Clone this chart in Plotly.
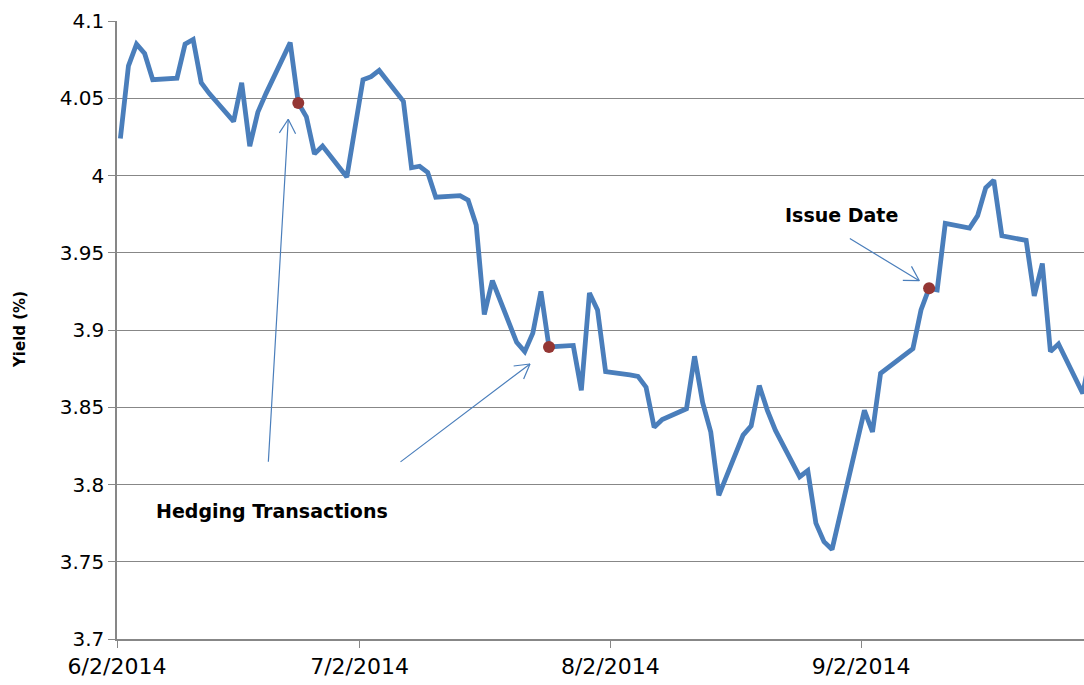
import math
import pandas as pd
import plotly.graph_objects as go

# ---- data ----
dates = [
    "2014-06-02", "2014-06-03", "2014-06-04", "2014-06-05", "2014-06-06",
    "2014-06-09", "2014-06-10", "2014-06-11", "2014-06-12", "2014-06-13",
    "2014-06-16", "2014-06-17", "2014-06-18", "2014-06-19", "2014-06-20",
    "2014-06-23", "2014-06-24", "2014-06-25", "2014-06-26", "2014-06-27",
    "2014-06-30", "2014-07-01", "2014-07-02", "2014-07-03", "2014-07-04",
    "2014-07-07", "2014-07-08", "2014-07-09", "2014-07-10", "2014-07-11",
    "2014-07-14", "2014-07-15", "2014-07-16", "2014-07-17", "2014-07-18",
    "2014-07-21", "2014-07-22", "2014-07-23", "2014-07-24", "2014-07-25",
    "2014-07-28", "2014-07-29", "2014-07-30", "2014-07-31", "2014-08-01",
    "2014-08-04", "2014-08-05", "2014-08-06", "2014-08-07", "2014-08-08",
    "2014-08-11", "2014-08-12", "2014-08-13", "2014-08-14", "2014-08-15",
    "2014-08-18", "2014-08-19", "2014-08-20", "2014-08-21", "2014-08-22",
    "2014-08-25", "2014-08-26", "2014-08-27", "2014-08-28", "2014-08-29",
    "2014-09-02", "2014-09-03", "2014-09-04", "2014-09-05",
    "2014-09-08", "2014-09-09", "2014-09-10", "2014-09-11", "2014-09-12",
    "2014-09-15", "2014-09-16", "2014-09-17", "2014-09-18", "2014-09-19",
    "2014-09-22", "2014-09-23", "2014-09-24", "2014-09-25", "2014-09-26",
    "2014-09-29", "2014-09-30",
]
yields = [
    4.024, 4.071, 4.085, 4.079, 4.062,
    4.063, 4.085, 4.088, 4.060, 4.053,
    4.035, 4.060, 4.019, 4.041, 4.053,
    4.086, 4.047, 4.038, 4.014, 4.019,
    3.999, 4.030, 4.062, 4.064, 4.068,
    4.048, 4.005, 4.006, 4.002, 3.986,
    3.987, 3.984, 3.968, 3.910, 3.932,
    3.892, 3.886, 3.898, 3.925, 3.889,
    3.890, 3.861, 3.924, 3.913, 3.873,
    3.871, 3.870, 3.863, 3.837, 3.842,
    3.849, 3.883, 3.853, 3.834, 3.793,
    3.832, 3.838, 3.864, 3.848, 3.835,
    3.805, 3.809, 3.775, 3.763, 3.758,
    3.848, 3.834, 3.872, 3.876,
    3.888, 3.913, 3.927, 3.926, 3.969,
    3.966, 3.974, 3.992, 3.997, 3.961,
    3.958, 3.922, 3.943, 3.886, 3.891,
    3.859, 3.885,
]

event_dates = ["2014-06-24", "2014-07-25", "2014-09-10"]
event_yields = [4.047, 3.889, 3.927]

y_ticks = [3.7, 3.75, 3.8, 3.85, 3.9, 3.95, 4.0, 4.05, 4.1]
y_ticktext = ["3.7", "3.75", "3.8", "3.85", "3.9", "3.95", "4", "4.05", "4.1"]

# each date is drawn inside its day slot (as a date axis does)
slot = pd.Timedelta(hours=10)
x_line = pd.to_datetime(dates) + slot
x_evt = pd.to_datetime(event_dates) + slot

LINE = "#4a7ebb"
DOT = "#943634"
GRID = "#878787"
FONT = "DejaVu Sans"

fig = go.Figure()
fig.add_trace(go.Scatter(
    x=x_line, y=yields, mode="lines",
    line=dict(color=LINE, width=4.8), hoverinfo="skip", showlegend=False,
))
fig.add_trace(go.Scatter(
    x=x_evt, y=event_yields, mode="markers",
    marker=dict(color=DOT, size=12), hoverinfo="skip", showlegend=False,
))

fig.update_xaxes(
    type="date",
    range=["2014-06-02 00:00", "2014-09-29 13:40"],
    tick0="2014-06-02", dtick="M1", tickformat="%-m/%-d/%Y",
    ticks="outside", ticklen=7, tickcolor=GRID, tickwidth=1.3,
    showgrid=False, showline=True, linecolor=GRID, linewidth=1.5,
    zeroline=False,
    tickfont=dict(family=FONT, size=22, color="#000000"),
)
fig.update_yaxes(
    range=[3.7, 4.1],
    tickvals=y_ticks, ticktext=y_ticktext,
    ticks="outside", ticklen=7, tickcolor=GRID, tickwidth=1.3,
    showgrid=True, gridcolor=GRID, gridwidth=1.3,
    showline=True, linecolor=GRID, linewidth=1.5,
    zeroline=False,
    tickfont=dict(family=FONT, size=20, color="#000000"),
)

# callout arrows: tip in paper coords, tail as pixel offset; open V heads
arrows = [
    (0.1771, 0.841, -20, 344),
    (0.4271, 0.445, -131, 99),
    (0.8297, 0.5798, -71, -43),
]
common = dict(xref="paper", yref="paper", text="", showarrow=True,
              arrowhead=0, arrowwidth=1.2, arrowcolor=LINE, standoff=0)
head_len = 18
head_ang = math.radians(30)
for x, y, ax, ay in arrows:
    fig.add_annotation(x=x, y=y, ax=ax, ay=ay, **common)
    n = math.hypot(ax, ay)
    ux, uy = ax / n, ay / n
    for s in (1, -1):
        c, sn = math.cos(s * head_ang), math.sin(s * head_ang)
        hx = (ux * c - uy * sn) * head_len
        hy = (ux * sn + uy * c) * head_len
        fig.add_annotation(x=x, y=y, ax=hx, ay=hy, **common)

label_font = dict(family=FONT, size=19, color="#000000")
fig.add_annotation(x=0.1603, y=0.207, xref="paper", yref="paper",
                   xanchor="center", yanchor="middle",
                   text="<b>Hedging Transactions</b>", showarrow=False,
                   font=label_font)
fig.add_annotation(x=0.7497, y=0.686, xref="paper", yref="paper",
                   xanchor="center", yanchor="middle",
                   text="<b>Issue Date</b>", showarrow=False,
                   font=label_font)
fig.add_annotation(x=-0.1003, y=0.5, xref="paper", yref="paper",
                   xanchor="center", yanchor="middle",
                   text="<b>Yield (%)</b>", showarrow=False, textangle=-90,
                   font=dict(family=FONT, size=15, color="#000000"))

fig.update_layout(
    width=1084, height=685,
    margin=dict(l=117, r=0, t=21, b=46, autoexpand=False),
    paper_bgcolor="white", plot_bgcolor="white",
    showlegend=False,
)

fig.write_html(
    "out.html",
    config={"displayModeBar": False},
    post_script="document.body.style.margin='0';"
                "document.body.style.overflow='hidden';",
)
